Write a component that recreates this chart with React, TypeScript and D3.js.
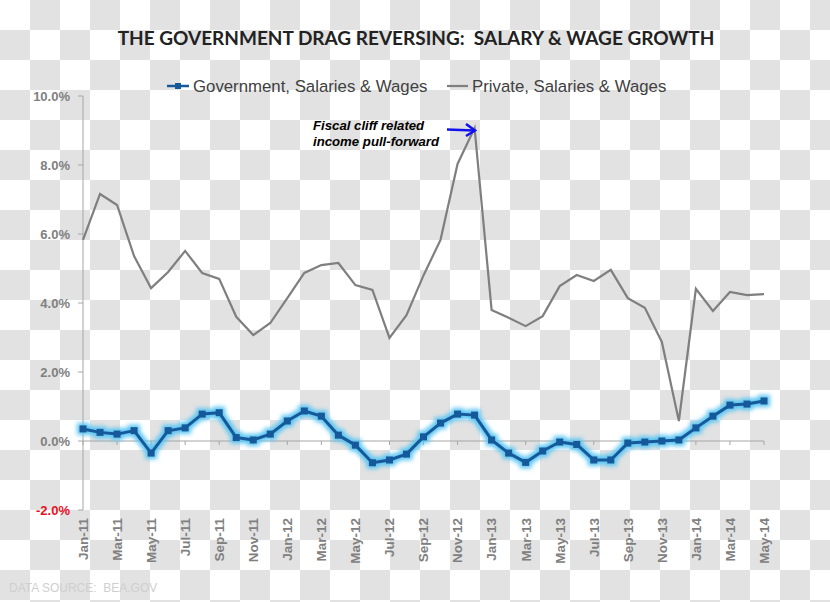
import React from "react";
import * as d3 from "d3";

const months = [
  "Jan-11","Feb-11","Mar-11","Apr-11","May-11","Jun-11","Jul-11","Aug-11","Sep-11","Oct-11","Nov-11","Dec-11",
  "Jan-12","Feb-12","Mar-12","Apr-12","May-12","Jun-12","Jul-12","Aug-12","Sep-12","Oct-12","Nov-12","Dec-12",
  "Jan-13","Feb-13","Mar-13","Apr-13","May-13","Jun-13","Jul-13","Aug-13","Sep-13","Oct-13","Nov-13","Dec-13",
  "Jan-14","Feb-14","Mar-14","Apr-14","May-14",
];

const government = [
  0.35, 0.25, 0.2, 0.3, -0.35, 0.3, 0.38, 0.78, 0.82, 0.1, 0.03, 0.2,
  0.58, 0.87, 0.72, 0.17, -0.12, -0.63, -0.55, -0.38, 0.12, 0.52, 0.78, 0.75,
  0.03, -0.35, -0.62, -0.29, -0.03, -0.1, -0.55, -0.55, -0.06, -0.03, 0.0, 0.03,
  0.38, 0.72, 1.04, 1.07, 1.16,
];

const privateSeries = [
  5.83, 7.16, 6.84, 5.36, 4.43, 4.9, 5.51, 4.87, 4.7, 3.6, 3.07, 3.42,
  4.14, 4.87, 5.1, 5.16, 4.52, 4.38, 2.99, 3.65, 4.8, 5.83, 8.03, 9.07,
  3.8, 3.57, 3.33, 3.62, 4.49, 4.81, 4.64, 4.96, 4.14, 3.86, 2.87, 0.58,
  4.41, 3.77, 4.32, 4.23, 4.26,
];

const yTicks = [-2, 0, 2, 4, 6, 8, 10];

const W = 830;
const H = 602;

export default function App() {
  const x = d3.scaleLinear().domain([0, months.length - 1]).range([83, 764]);
  const y = d3.scaleLinear().domain([-2, 10]).range([510, 96]);

  const line = d3
    .line<number>()
    .x((_, i) => x(i))
    .y((d) => y(d));

  const cells: JSX.Element[] = [];
  for (let r = 0; r < Math.ceil(H / 30); r++) {
    for (let c = 0; c < Math.ceil(W / 30); c++) {
      if ((r + c) % 2 === 1) {
        cells.push(<rect key={`${r}-${c}`} x={c * 30} y={r * 30} width={30} height={30} fill="#e2e2e2" />);
      }
    }
  }

  const labelIdx = months.map((_, i) => i).filter((i) => i % 2 === 0);
  const govColor = "#16599a";
  const axisColor = "#a6a6a6";

  return (
    <svg
      width={W}
      height={H}
      style={{ position: "absolute", left: 0, top: 0, display: "block" }}
      fontFamily="'Liberation Sans', Arial, sans-serif"
    >
      <defs>
        <filter id="glow" x="-10%" y="-50%" width="120%" height="200%">
          <feGaussianBlur stdDeviation="2" />
        </filter>
      </defs>
      <rect x={0} y={0} width={W} height={H} fill="#ffffff" />
      {cells}

      {/* Title */}
      <text
        x={416}
        y={45}
        textAnchor="middle"
        fontFamily="Lato, 'Open Sans', sans-serif"
        fontWeight={700}
        fontSize={19}
        fill="#222222"
      >
        THE GOVERNMENT DRAG REVERSING:{"\u00a0\u00a0"}SALARY &amp; WAGE GROWTH
      </text>

      {/* Legend */}
      <line x1={167} x2={189} y1={86} y2={86} stroke={govColor} strokeWidth={2.5} />
      <rect x={175} y={83} width={6} height={6} fill={govColor} />
      <text x={193} y={91.5} fontSize={16.8} fill="#404040">
        Government, Salaries &amp; Wages
      </text>
      <line x1={447} x2={468} y1={86} y2={86} stroke="#7f7f7f" strokeWidth={2.2} />
      <text x={472} y={91.5} fontSize={16.8} fill="#404040">
        Private, Salaries &amp; Wages
      </text>

      {/* Y axis */}
      <line x1={83} x2={83} y1={y(10)} y2={y(-2)} stroke={axisColor} strokeWidth={1} />
      {yTicks.map((t) => (
        <g key={t}>
          <line x1={78} x2={83} y1={y(t)} y2={y(t)} stroke={axisColor} strokeWidth={1} />
          <text
            x={70}
            y={y(t)}
            dy="0.36em"
            textAnchor="end"
            fontSize={13}
            fontWeight={700}
            fill={t < 0 ? "#e8101e" : "#808080"}
          >
            {t.toFixed(1)}%
          </text>
        </g>
      ))}

      {/* X axis at zero */}
      <line x1={83} x2={764} y1={y(0)} y2={y(0)} stroke={axisColor} strokeWidth={1} />
      {labelIdx.map((i) => (
        <line key={`t${i}`} x1={x(i)} x2={x(i)} y1={y(0)} y2={y(0) + 4} stroke={axisColor} strokeWidth={1} />
      ))}
      {labelIdx.map((i) => (
        <text
          key={`l${i}`}
          transform={`translate(${x(i)},518) rotate(-90)`}
          textAnchor="end"
          dy="0.36em"
          fontSize={13.5}
          fontWeight={700}
          fill="#808080"
        >
          {months[i]}
        </text>
      ))}

      {/* Private series */}
      <path d={line(privateSeries) ?? ""} fill="none" stroke="#7f7f7f" strokeWidth={2.2} strokeLinejoin="miter" />

      {/* Government series with glow */}
      <g filter="url(#glow)">
        <path d={line(government) ?? ""} fill="none" stroke="#5cc6f2" strokeWidth={9} strokeLinejoin="round" strokeLinecap="round" />
        {government.map((v, i) => (
          <rect key={`gg${i}`} x={x(i) - 6} y={y(v) - 6} width={12} height={12} fill="#5cc6f2" />
        ))}
      </g>
      <path d={line(government) ?? ""} fill="none" stroke={govColor} strokeWidth={3} strokeLinejoin="round" />
      {government.map((v, i) => (
        <rect key={`g${i}`} x={x(i) - 3.5} y={y(v) - 3.5} width={7} height={7} fill={govColor} />
      ))}

      {/* Annotation */}
      <text fontSize={13.2} fontWeight={700} fontStyle="italic" fill="#000000">
        <tspan x={313} y={130}>Fiscal cliff related</tspan>
        <tspan x={313} y={145.5}>income pull-forward</tspan>
      </text>
      <line x1={447} x2={474} y1={129.5} y2={130.5} stroke="#1010ee" strokeWidth={2.5} />
      <path d="M466,124 L475,130.5 L466,136" fill="none" stroke="#1010ee" strokeWidth={2.5} />

      {/* Source */}
      <text x={9} y={592} fontSize={12} fill="#cfcfcf">
        DATA SOURCE:{"\u00a0\u00a0"}BEA.GOV
      </text>
    </svg>
  );
}
